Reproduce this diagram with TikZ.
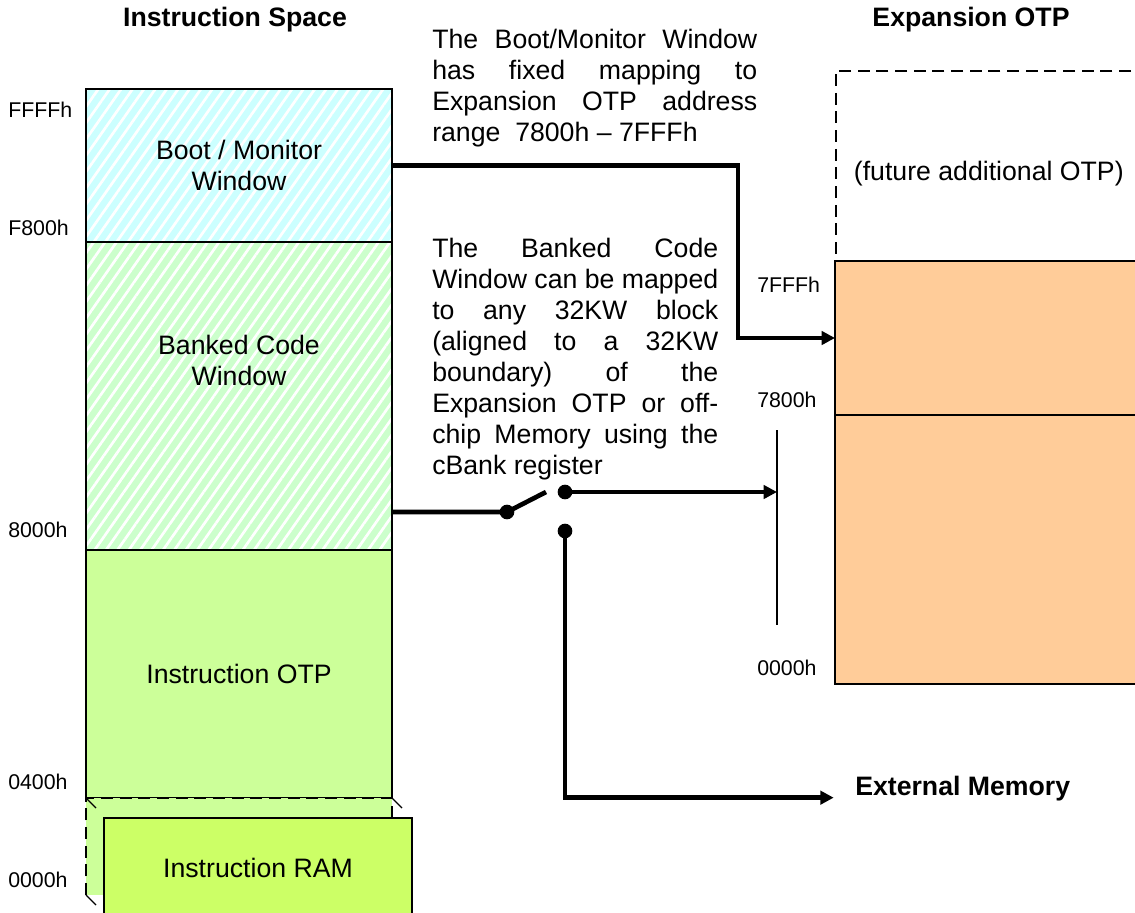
\documentclass[tikz,border=0pt]{standalone}
\usepackage{fontspec}
\setmainfont{Liberation Sans}
\usetikzlibrary{positioning,arrows.meta,patterns.meta}
\definecolor{bootcyan}{RGB}{204,255,255}
\definecolor{bankgreen}{RGB}{204,255,204}
\definecolor{otpgreen}{RGB}{204,255,153}
\definecolor{ramgreen}{RGB}{204,255,102}
\definecolor{exporange}{RGB}{255,204,153}
\hbadness=10000

\begin{document}
\begin{tikzpicture}[x=0.75pt, y=-0.75pt, node distance=0pt,
    txt/.style={font=\fontsize{20}{23.25}\selectfont},
    title/.style={font=\fontsize{20}{23.25}\selectfont\bfseries},
    addr/.style={font=\fontsize{16}{19}\selectfont, anchor=west, inner sep=0pt},
    memblock/.style={draw, line width=1pt, inner sep=0pt, outer sep=0pt, minimum width=229.5pt, txt, align=center},
    hatched/.style={pattern={Lines[angle=55,distance=7pt,line width=2pt]}, pattern color=white},
    dashline/.style={line width=1.2pt, dash pattern=on 9pt off 5pt},
    link/.style={line width=3.5pt, -{Triangle[length=10pt,width=10pt]}},
    contact/.style={circle, fill, inner sep=0pt, minimum size=11pt}]
  \useasboundingbox (0,0) rectangle (1135,913);
  \clip (0,0) rectangle (1135,913);

  \node[title] (insttitle) at (235,20) {Instruction Space};
  \node[title] (exptitle) at (971,20) {Expansion OTP};

  \node[memblock, preaction={fill=bootcyan}, hatched, minimum height=114.75pt, anchor=north west] (boot) at (86,89) {Boot / Monitor\\Window};
  \node[memblock, preaction={fill=bankgreen}, hatched, minimum height=231pt, below=of boot] (banked) {};
  \node[txt, align=center] (bankedlbl) at ([yshift=27pt]banked.center) {Banked Code\\Window};
  \node[memblock, fill=otpgreen, minimum height=186pt, below=of banked] (instotp) {Instruction OTP};
  \node[fill=otpgreen, inner sep=0pt, outer sep=0pt, minimum width=229.5pt, minimum height=72.75pt, below=of instotp] (ramback) {};
  \draw[dashline] (ramback.south west) -- (ramback.north west) -- (ramback.north east);
  \draw[line width=1pt] (ramback.north west) -- ++(10,10);
  \draw[line width=1pt] (ramback.north east) -- ++(10,10);
  \draw[line width=1pt] (ramback.south west) -- ++(10,10);
  \node[memblock, fill=ramgreen, minimum width=231pt, minimum height=75pt, anchor=north west] (ram) at (104,818) {Instruction RAM};
  \draw[line width=1pt] ([yshift=-6pt]ramback.north east) -- (ramback.north east |- ram.north);

  \node[addr] (aFFFF) at (8,110) {FFFFh};
  \node[addr] (aF800) at (8,228) {F800h};
  \node[addr] (a8000) at (8,530) {8000h};
  \node[addr] (a0400) at (8,782) {0400h};
  \node[addr] (a0000) at (8,880) {0000h};

  \node[draw, dashline, txt, inner sep=0pt, minimum width=229.5pt, minimum height=154.5pt, anchor=north west] (future) at (835,70) {(future additional OTP)};
  \node[memblock, fill=exporange, minimum width=240pt, minimum height=115.5pt, anchor=north west] (otphigh) at (835,261) {};
  \node[memblock, fill=exporange, minimum width=240pt, minimum height=201.75pt, below=of otphigh] (otplow) {};
  \node[addr] (b7FFF) at (757,285) {7FFFh};
  \node[addr] (b7800) at (757,400) {7800h};
  \node[addr] (b0000) at (757,668) {0000h};

  \node[txt, text width=243.75pt, align=justify, inner sep=0pt, anchor=north west] (bootnote) at (432,28.5) {The Boot/Monitor Window\linebreak has fixed mapping to\linebreak Expansion OTP address\linebreak range\ \ 7800h \textendash{} 7FFFh};
  \node[txt, text width=214.5pt, align=justify, inner sep=0pt, anchor=north west] (banknote) at (432,238) {The Banked Code\linebreak Window can be mapped\linebreak to any 32KW block\linebreak (aligned to a 32KW\linebreak boundary) of the\linebreak Expansion OTP or off-\linebreak chip Memory using the\linebreak cBank register};

  \coordinate (bootbend) at (738,168);
  \draw[link] (boot.east) -| (bootbend |- otphigh.west) -- (otphigh.west);

  \coordinate (bartop) at (777,430);
  \coordinate (barbot) at (777,625);
  \draw[line width=1.2pt] (bartop) -- (barbot);

  \node[contact] (pivot) at (507,512) {};
  \coordinate (armtip) at (546,492);
  \node[contact] (upper) at (565,492) {};
  \node[contact] (lower) at (565,531) {};
  \draw[line width=3.5pt] (pivot -| banked.east) -- (pivot.center) -- (armtip);
  \draw[link] (upper.center) -- (upper -| bartop);

  \node[title, anchor=base west, inner sep=0pt] (extmem) at (855,795) {External Memory};
  \draw[link] (lower.center) |- ([xshift=-16pt,yshift=-2pt]extmem.base west);
\end{tikzpicture}
\end{document}
